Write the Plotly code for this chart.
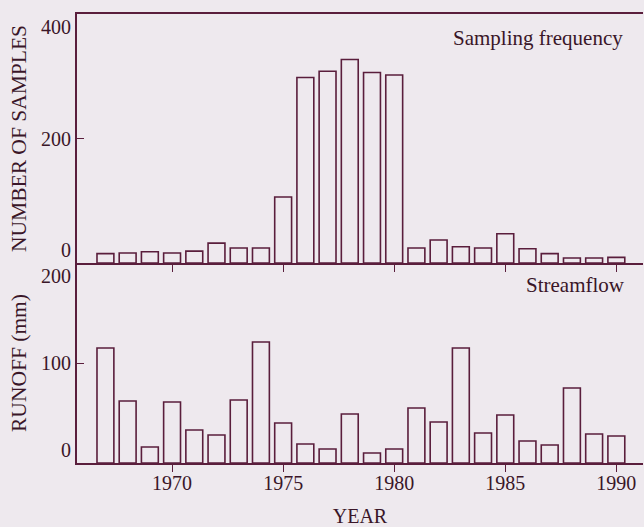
import plotly.graph_objects as go
from plotly.subplots import make_subplots

years = list(range(1967, 1991))
samples = [15, 16, 18, 16, 19, 32, 24, 24, 106, 298, 308, 327, 306, 302,
           24, 37, 26, 24, 47, 23, 15, 8, 8, 9]
runoff = [115, 62, 16, 61, 33, 28, 63, 121, 40, 19, 14, 49, 10, 14,
          55, 41, 115, 30, 48, 22, 18, 75, 29, 27]

x_ticks = [1970, 1975, 1980, 1985, 1990]
samp_ticks = [0, 200, 400]
run_ticks = [0, 100, 200]

BG = "#EEE9EE"
LINE = "#5A1E3C"
TXT = "#3A1628"
FONT = "Liberation Serif"


def tick_text(vals):
    # push end labels inward (as in the printed figure)
    out = []
    for i, v in enumerate(vals):
        if i == 0:
            out.append(f"{v}<br> ")
        elif i == len(vals) - 1:
            out.append(f" <br>{v}")
        else:
            out.append(str(v))
    return out


fig = make_subplots(rows=2, cols=1, shared_xaxes=True, vertical_spacing=0,
                    row_heights=[249, 200])

fig.add_trace(go.Bar(x=years, y=samples, marker=dict(color=BG, line=dict(color=LINE, width=1.6)),
                     width=0.76), row=1, col=1)
fig.add_trace(go.Bar(x=years, y=runoff, marker=dict(color=BG, line=dict(color=LINE, width=1.6)),
                     width=0.76), row=2, col=1)

xcommon = dict(range=[1965.72, 1991.2], tickvals=x_ticks, ticks="outside", ticklen=7,
               tickcolor=LINE, tickwidth=1.4, showline=True, linecolor=LINE, linewidth=2,
               showgrid=False, zeroline=False, automargin=False, ticklabelstandoff=-6,
               ticklabeloverflow="allow",
               tickfont=dict(size=20, color=TXT, family=FONT))
fig.update_xaxes(**xcommon)
fig.update_xaxes(showticklabels=False, mirror=True, row=1, col=1)
fig.update_xaxes(showticklabels=True, mirror=False, row=2, col=1,
                 title=dict(text="YEAR", font=dict(size=20, color=TXT, family=FONT), standoff=20))

ycommon = dict(ticks="inside", ticklen=7, tickcolor=LINE, tickwidth=1.4, showline=True,
               linecolor=LINE, linewidth=2, showgrid=False, zeroline=False, automargin=False,
               ticklabeloverflow="allow",
               tickfont=dict(size=20, color=TXT, family=FONT))
fig.update_yaxes(**ycommon)
fig.update_yaxes(range=[0, 400], tickvals=samp_ticks, ticktext=tick_text(samp_ticks),
                 title=dict(text="NUMBER OF SAMPLES", font=dict(size=21.5, color=TXT, family=FONT), standoff=8),
                 row=1, col=1)
fig.update_yaxes(range=[0, 200], tickvals=run_ticks, ticktext=tick_text(run_ticks),
                 title=dict(text="RUNOFF (mm)", font=dict(size=21.5, color=TXT, family=FONT), standoff=8),
                 row=2, col=1)

fig.add_annotation(text="Sampling frequency", xref="x domain", yref="y domain", x=0.969, y=0.905,
                   xanchor="right", yanchor="middle", showarrow=False,
                   font=dict(size=21, color=TXT, family=FONT))
fig.add_annotation(text="Streamflow", xref="x2 domain", yref="y2 domain", x=0.972, y=0.89,
                   xanchor="right", yanchor="middle", showarrow=False,
                   font=dict(size=21, color=TXT, family=FONT))

fig.update_layout(width=644, height=527, margin=dict(l=77, r=1, t=14, b=64),
                  paper_bgcolor=BG, plot_bgcolor=BG, showlegend=False, bargap=0.25,
                  font=dict(family=FONT, size=20, color=TXT))

fig.write_html("out.html", config={"displayModeBar": False},
               post_script="document.body.style.margin='0';")
